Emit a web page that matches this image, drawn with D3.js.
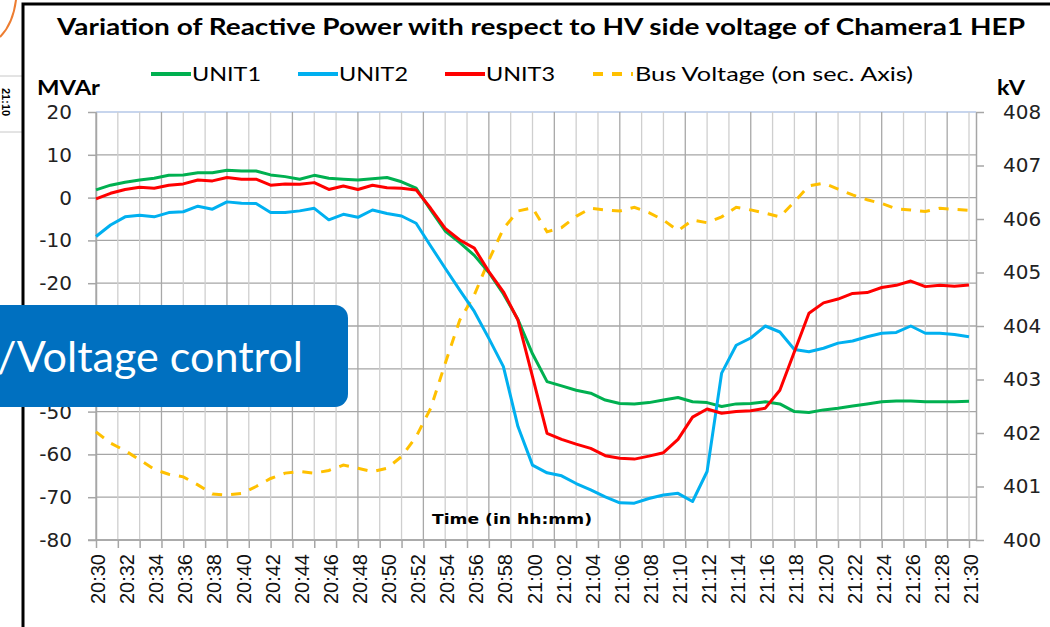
<!DOCTYPE html>
<html>
<head>
<meta charset="utf-8">
<script src="https://cdn.jsdelivr.net/npm/d3@7"></script>
<style>
  body { margin: 0; background: #fff; overflow: hidden; }
</style>
</head>
<body>
<div id="vizArea"></div>
<script>
var w = 1050
var h = 627

// DATA ********************************
// one sample per minute, 20:30 .. 21:30
var times = ["20:30","20:31","20:32","20:33","20:34","20:35","20:36","20:37","20:38","20:39",
  "20:40","20:41","20:42","20:43","20:44","20:45","20:46","20:47","20:48","20:49",
  "20:50","20:51","20:52","20:53","20:54","20:55","20:56","20:57","20:58","20:59",
  "21:00","21:01","21:02","21:03","21:04","21:05","21:06","21:07","21:08","21:09",
  "21:10","21:11","21:12","21:13","21:14","21:15","21:16","21:17","21:18","21:19",
  "21:20","21:21","21:22","21:23","21:24","21:25","21:26","21:27","21:28","21:29","21:30"];

var unit1 = [1.8,2.9,3.6,4.1,4.5,5.2,5.3,5.8,5.8,6.4,
  6.2,6.2,5.3,4.9,4.3,5.2,4.5,4.3,4.1,4.4,
  4.7,3.7,2.2,-2.9,-7.8,-10.5,-13.5,-17.5,-22.5,-28.5,
  -36.5,-43,-44,-45,-45.7,-47.3,-48.1,-48.2,-47.9,-47.3,
  -46.7,-47.7,-47.9,-48.8,-48.2,-48.1,-47.7,-48.2,-50.0,-50.2,
  -49.6,-49.2,-48.7,-48.2,-47.7,-47.5,-47.5,-47.7,-47.7,-47.7,-47.6];

var unit2 = [-9.1,-6.4,-4.5,-4.1,-4.5,-3.5,-3.3,-2.0,-2.7,-1.0,
  -1.3,-1.4,-3.5,-3.5,-3.1,-2.5,-5.2,-3.9,-4.6,-2.9,
  -3.7,-4.3,-6.0,-11.3,-16.5,-21.6,-26.6,-32.9,-39.5,-53.5,
  -62.5,-64.3,-65.0,-66.8,-68.3,-69.9,-71.3,-71.4,-70.3,-69.5,
  -69.1,-71.0,-64.0,-41.0,-34.5,-32.8,-30.0,-31.4,-35.5,-36.0,
  -35.2,-34.0,-33.5,-32.5,-31.7,-31.5,-30.0,-31.7,-31.7,-32.0,-32.5];

var unit3 = [-0.3,1.0,1.9,2.4,2.2,2.9,3.2,4.1,3.9,4.7,
  4.3,4.3,2.9,3.2,3.1,3.5,1.9,2.7,1.9,2.9,
  2.3,2.2,1.8,-2.5,-7.2,-9.9,-11.8,-17.3,-22.0,-28.6,
  -41.8,-55.1,-56.5,-57.6,-58.6,-60.3,-60.9,-61.1,-60.4,-59.6,
  -56.5,-51.3,-49.4,-50.4,-50.0,-49.8,-49.2,-45.0,-36.0,-27.0,
  -24.6,-23.7,-22.4,-22.2,-21.0,-20.5,-19.5,-20.8,-20.5,-20.7,-20.4];

var busVoltage = [402.02,401.81,401.67,401.50,401.32,401.23,401.18,401.03,400.86,400.84,
  400.87,401.00,401.15,401.25,401.28,401.25,401.30,401.40,401.34,401.28,
  401.34,401.56,401.93,402.46,403.30,404.11,404.58,405.23,405.82,406.15,
  406.21,405.76,405.84,406.05,406.20,406.17,406.15,406.22,406.12,405.98,
  405.78,405.98,405.93,406.04,406.22,406.17,406.11,406.04,406.32,406.62,
  406.67,406.56,406.45,406.36,406.29,406.19,406.17,406.14,406.20,406.18,406.16];

var mvarTicks = [20,10,0,-10,-20,-30,-40,-50,-60,-70,-80];
var kvTicks = [408,407,406,405,404,403,402,401,400];
var timeLabels = ["20:30","20:32","20:34","20:36","20:38","20:40","20:42","20:44","20:46","20:48",
  "20:50","20:52","20:54","20:56","20:58","21:00","21:02","21:04","21:06","21:08",
  "21:10","21:12","21:14","21:16","21:18","21:20","21:22","21:24","21:26","21:28","21:30"];

var seriesNames = ["UNIT1","UNIT2","UNIT3"];
var seriesColors = ["#00B050","#00B0F0","#FF0000"];
var voltColor = "#FFC000";

// SET-UP ********************************
var svg = d3.select("#vizArea").append("svg")
    .attr("width", w)
    .attr("height", h)
    .style("display", "block");

// plot box (note: "top" is reserved on window, so use plot* names)
var plotLeft = 96, plotRight = 976, plotTop = 112, plotBottom = 540;

var x = d3.scaleLinear().domain([0, times.length - 1]).range([plotLeft, 969]);
var yL = d3.scaleLinear().domain([-80, 20]).range([plotBottom, plotTop]);
var yR = d3.scaleLinear().domain([400, 408]).range([plotBottom, plotTop]);

// slide bits outside the chart frame
svg.append("path")
    .attr("d", "M16,0 Q13,24 0,37")
    .attr("fill", "none")
    .attr("stroke", "#ED7D31")
    .attr("stroke-width", 2);
svg.append("line").attr("x1", 0).attr("x2", 22).attr("y1", 76).attr("y2", 76)
    .attr("stroke", "#c8c8c8");
svg.append("line").attr("x1", 0).attr("x2", 22).attr("y1", 132).attr("y2", 132)
    .attr("stroke", "#c8c8c8");
svg.append("text")
    .attr("transform", "translate(2,88) rotate(90)")
    .attr("font-family", "Liberation Sans")
    .attr("font-size", 11)
    .attr("font-weight", "bold")
    .text("21:10");

// chart frame
svg.append("path")
    .attr("d", "M23,627 L23,4 L1050,4")
    .attr("fill", "none")
    .attr("stroke", "#000")
    .attr("stroke-width", 3);

// gridlines
var grid = svg.append("g");
grid.selectAll(".hg")
    .data(mvarTicks)
    .enter().append("line")
    .attr("x1", plotLeft).attr("x2", plotRight)
    .attr("y1", function(d){ return yL(d); })
    .attr("y2", function(d){ return yL(d); })
    .attr("stroke", function(d){ return d == 20 ? "#b4c7e7" : "#a6a6a6"; })
    .attr("stroke-width", 1.3);

var vgrid = d3.range(0, 60.01, 1.5);
grid.selectAll(".vg")
    .data(vgrid)
    .enter().append("line")
    .attr("x1", function(d){ return x(d); })
    .attr("x2", function(d){ return x(d); })
    .attr("y1", plotTop).attr("y2", plotBottom)
    .attr("stroke", function(d, i){ return i % 3 == 0 ? "#a8a8a8" : "#cfcfcf"; })
    .attr("stroke-width", 1.3);

// axes
var axisFont = "DejaVu Sans";

var gL = svg.append("g")
    .attr("transform", "translate(" + plotLeft + ",0)")
    .call(d3.axisLeft(yL).tickValues(mvarTicks).tickSize(8).tickPadding(16).tickSizeOuter(0)
        .tickFormat(function(d){ return String(d); }));
gL.selectAll("text").attr("font-family", axisFont).attr("font-size", 20).attr("fill", "#222");

var gR = svg.append("g")
    .attr("transform", "translate(" + plotRight + ",0)")
    .call(d3.axisRight(yR).tickValues(kvTicks).tickSize(8).tickPadding(19).tickSizeOuter(0));
gR.selectAll("text").attr("font-family", axisFont).attr("font-size", 20).attr("fill", "#222");

var gB = svg.append("g")
    .attr("transform", "translate(0," + plotBottom + ")")
    .call(d3.axisBottom(x).tickValues(vgrid).tickSize(8).tickFormat("").tickSizeOuter(0));
gB.select(".domain").attr("d", "M" + (plotLeft - 8) + ",0H" + plotRight);

svg.selectAll(".domain, .tick line").attr("stroke", "#a6a6a6").attr("stroke-width", 1.5);

// time labels, rotated
svg.append("g").selectAll("text")
    .data(timeLabels)
    .enter().append("text")
    .attr("transform", function(d, i){
        return "translate(" + (x(i * 2) + 9) + ",554) rotate(-90)";
    })
    .attr("text-anchor", "end")
    .attr("font-family", "Liberation Sans")
    .attr("font-size", 20)
    .attr("fill", "#111")
    .text(function(d){ return d; });

svg.append("text")
    .attr("x", 432).attr("y", 524)
    .attr("font-family", axisFont)
    .attr("font-weight", "bold")
    .attr("font-size", 14)
    .attr("textLength", 160)
    .attr("lengthAdjust", "spacingAndGlyphs")
    .text("Time (in hh:mm)");

// lines
var lineL = d3.line()
    .x(function(d, i){ return x(i); })
    .y(function(d){ return yL(d); });
var lineR = d3.line()
    .x(function(d, i){ return x(i); })
    .y(function(d){ return yR(d); });

svg.append("path")
    .datum(busVoltage)
    .attr("d", lineR)
    .attr("fill", "none")
    .attr("stroke", voltColor)
    .attr("stroke-width", 3)
    .attr("stroke-dasharray", "10,9");

[unit1, unit2, unit3].forEach(function(s, k){
    svg.append("path")
        .datum(s)
        .attr("d", lineL)
        .attr("fill", "none")
        .attr("stroke", seriesColors[k])
        .attr("stroke-width", 3)
        .attr("stroke-linejoin", "round");
});

// title, legend, axis names
var txtFont = "Lato";

svg.append("text")
    .attr("x", 57).attr("y", 35)
    .attr("font-family", txtFont)
    .attr("font-weight", "bold")
    .attr("font-size", 23)
    .attr("textLength", 968)
    .attr("lengthAdjust", "spacingAndGlyphs")
    .text("Variation of Reactive Power with respect to HV side voltage of Chamera1 HEP");

svg.append("text")
    .attr("x", 37).attr("y", 95)
    .attr("font-family", txtFont)
    .attr("font-weight", "bold")
    .attr("font-size", 21)
    .attr("textLength", 63)
    .attr("lengthAdjust", "spacingAndGlyphs")
    .text("MVAr");

svg.append("text")
    .attr("x", 997).attr("y", 95)
    .attr("font-family", txtFont)
    .attr("font-weight", "bold")
    .attr("font-size", 21)
    .attr("textLength", 28)
    .attr("lengthAdjust", "spacingAndGlyphs")
    .text("kV");

var legX = [151, 298, 445];
var legend = svg.append("g");
seriesNames.forEach(function(n, k){
    legend.append("line")
        .attr("x1", legX[k]).attr("x2", legX[k] + 40)
        .attr("y1", 74).attr("y2", 74)
        .attr("stroke", seriesColors[k])
        .attr("stroke-width", 4);
    legend.append("text")
        .attr("x", legX[k] + 41).attr("y", 81)
        .attr("font-family", txtFont)
        .attr("font-size", 20)
        .attr("textLength", 69)
        .attr("lengthAdjust", "spacingAndGlyphs")
        .text(n);
});
legend.append("line")
    .attr("x1", 593).attr("x2", 633)
    .attr("y1", 74).attr("y2", 74)
    .attr("stroke", voltColor)
    .attr("stroke-width", 4)
    .attr("stroke-dasharray", "10,9");
legend.append("text")
    .attr("x", 635).attr("y", 81)
    .attr("font-family", txtFont)
    .attr("font-size", 20)
    .attr("textLength", 278)
    .attr("lengthAdjust", "spacingAndGlyphs")
    .text("Bus Voltage (on sec. Axis)");

// slide overlay box
svg.append("rect")
    .attr("x", -20).attr("y", 305)
    .attr("width", 368).attr("height", 102)
    .attr("rx", 13)
    .attr("fill", "#0070C0");
svg.append("text")
    .attr("x", -3).attr("y", 372)
    .attr("font-family", txtFont)
    .attr("font-size", 43)
    .attr("fill", "#fff")
    .attr("textLength", 306)
    .attr("lengthAdjust", "spacingAndGlyphs")
    .text("/Voltage control");
</script>
</body>
</html>
